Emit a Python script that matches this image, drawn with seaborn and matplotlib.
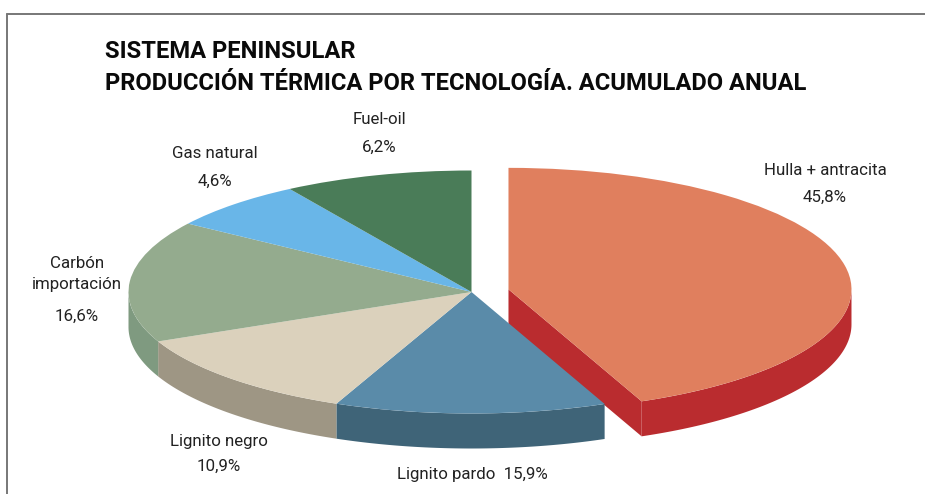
"""Sistema peninsular: producción térmica por tecnología (tarta 3D)."""

import numpy as np
import matplotlib.pyplot as plt
from matplotlib.patches import Polygon
from matplotlib.lines import Line2D
import seaborn as sns

W, H = 925, 494

categories = ["Hulla + antracita", "Lignito pardo", "Lignito negro",
              "Carbón importación", "Gas natural", "Fuel-oil"]
# lo que dicen las etiquetas
printed_values = ["45,8%", "15,9%", "10,9%", "16,6%", "4,6%", "6,2%"]
# lo que mide cada porción en el dibujo (no coincide del todo con las etiquetas)
drawn_shares = [43.7, 12.8, 11.9, 16.2, 6.6, 8.9]
explode = [0.11, 0, 0, 0, 0, 0]

top_colors = ["#E07F5E", "#5A8BA9", "#DBD1BC", "#94AB8E", "#69B6E8", "#4A7C58"]
wall_colors = ["#BA2C2F", "#3F6478", "#9E9684", "#7F9A80", "#5A9AC8", "#3C6649"]

# elipse en pixeles
CX, CY, RX, RY = 471.5, 292, 343, 121.5
DEPTH = 35 / RY

sns.set_theme(style="white")
plt.rcParams["font.family"] = ["Roboto", "DejaVu Sans"]


def px(x, y):
    return x / W, 1 - y / H


def draw_walls(ax):
    """Paredes laterales a partir de los ángulos de cada porción."""
    shares = np.array(drawn_shares)
    ends = 90 - np.cumsum(shares) / shares.sum() * 360
    starts = np.r_[90, ends[:-1]]
    for i, (a0, a1) in enumerate(zip(starts, ends)):
        mid = np.radians((a0 + a1) / 2)
        ox, oy = explode[i] * np.cos(mid), explode[i] * np.sin(mid)
        # arco frontal: sin(t) < 0
        lo, hi = a1 % 360, a1 % 360 + (a0 - a1)
        t = np.linspace(lo, hi, 200)
        t = t[np.sin(np.radians(t)) <= 0]
        if len(t) > 1:
            xs = ox + np.cos(np.radians(t))
            ys = oy + np.sin(np.radians(t))
            pts = np.r_[np.c_[xs, ys], np.c_[xs[::-1], ys[::-1] - DEPTH]]
            ax.add_patch(Polygon(pts, closed=True, fc=wall_colors[i], ec="none", zorder=0.5))
        # cara de corte de la porción separada
        if explode[i] > 0:
            ex, ey = ox + np.cos(np.radians(a1)), oy + np.sin(np.radians(a1))
            pts = [(ox, oy), (ex, ey), (ex, ey - DEPTH), (ox, oy - DEPTH)]
            ax.add_patch(Polygon(pts, closed=True, fc=wall_colors[i], ec="none", zorder=0.5))


fig = plt.figure(figsize=(W / 100, H / 100), dpi=100)
ax = fig.add_axes([0, 0, 1, 1])
ax.pie(
    drawn_shares,
    colors=sns.color_palette(top_colors),
    explode=explode,
    startangle=90,
    counterclock=False,
    wedgeprops={"linewidth": 0},
)
draw_walls(ax)
ax.set_aspect("auto")
ax.set_xlim(-CX / RX, (W - CX) / RX)
ax.set_ylim(-(H - CY) / RY, CY / RY)
ax.axis("off")

# marco
frame = "#777777"
fig.add_artist(Line2D([7 / W, 7 / W], [0, 1 - 14 / H], color=frame, lw=1.4))
fig.add_artist(Line2D([7 / W, 1], [1 - 14 / H, 1 - 14 / H], color=frame, lw=1.4))

# titulo
title_lines = ["SISTEMA PENINSULAR", "PRODUCCIÓN TÉRMICA POR TECNOLOGÍA. ACUMULADO ANUAL"]
for line, y in zip(title_lines, [52, 83]):
    fig.text(*px(105, y), line, fontsize=17.1, fontweight="bold", color="#0A0A0A",
             ha="left", va="center")

# etiquetas
ink = "#222222"
label_size = 12.2
texts = [
    ("Hulla + antracita", 825, 170), (printed_values[0], 825, 197),
    (f"{categories[1]}  {printed_values[1]}", 472, 474),
    (categories[2], 219, 441), (printed_values[2], 219, 466),
    ("Carbón", 77, 263), ("importación", 77, 284), (printed_values[3], 77, 316),
    (categories[4], 215, 154), (printed_values[4], 215, 181),
    (categories[5], 379, 120), (printed_values[5], 379, 147),
]
for s, x, y in texts:
    fig.text(*px(x, y), s, fontsize=label_size, color=ink, ha="center", va="center")

fig.savefig("out.png", dpi=100)
